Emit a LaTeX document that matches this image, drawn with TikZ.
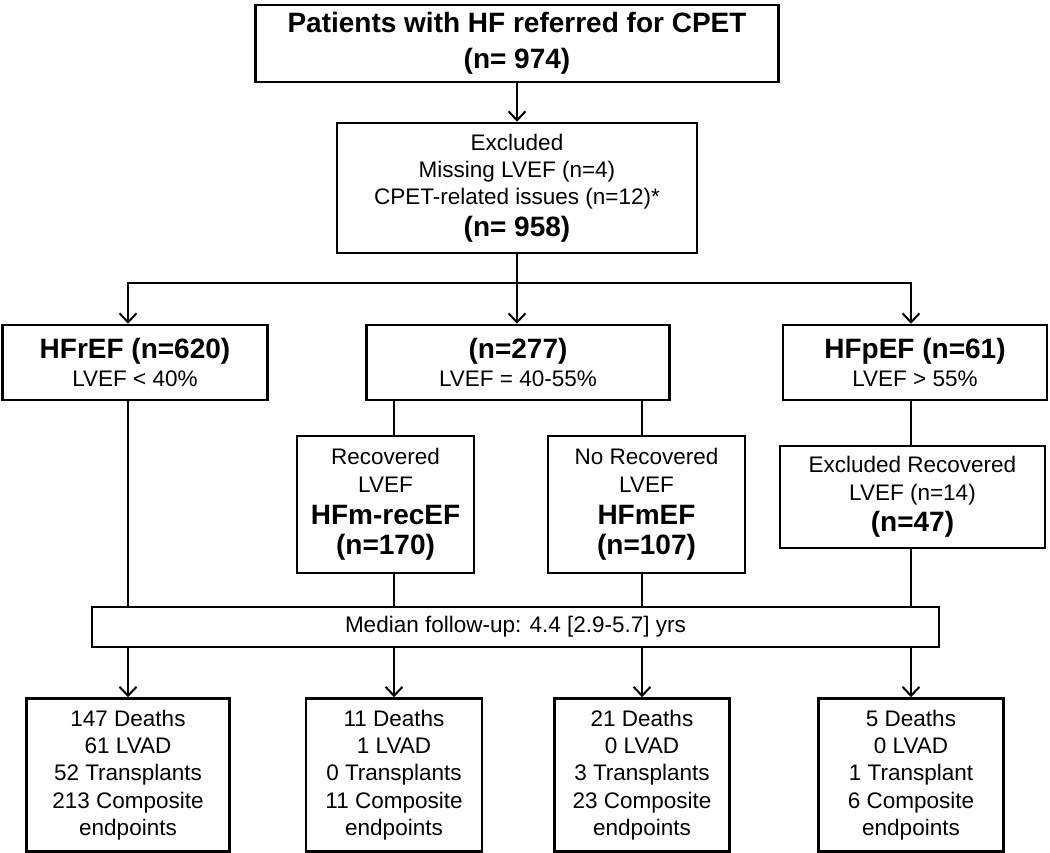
\documentclass[tikz,border=0pt]{standalone}
\usepackage{fontspec}
\setmainfont{Liberation Sans}
\usetikzlibrary{arrows.meta}
\tikzset{
    box/.style={
        draw,
        line width=2.5pt,
        align=center,
        inner sep=0pt,
        font=\fontsize{22.5}{27.3}\selectfont
    },
    lin/.style={line width=2.5pt},
    arr/.style={
        line width=2.5pt,
        -{Straight Barb[length=9pt,width=17pt,line width=2pt]}
    }
}
\newcommand{\bignum}[1]{{\fontsize{28}{31}\selectfont\bfseries #1}}
% name, x, y, width, height, text
\newcommand{\flowbox}[6] {
	\node[box, minimum width=#4pt, minimum height=#5pt] (#1) at (#2,#3) {#6};
}

\begin{document}
\begin{tikzpicture}[x=1pt,y=-1pt]
		\useasboundingbox (0,0) rectangle (1050,853);

		% Top of the chart
		\node[box, minimum width=523pt, minimum height=77pt,
			font=\fontsize{28}{36}\selectfont\bfseries] (top) at (517,43.5)
			{Patients with HF referred for CPET\\(n= 974)};
		\flowbox{excl}{517}{188}{360}{130}{Excluded\\Missing LVEF (n=4)\\CPET-related issues (n=12)*\\[4pt]\bignum{(n= 958)}}
		\coordinate (split) at (517,283);

		% Three groups
		\flowbox{hfr}{135}{362.5}{265}{75}{\bignum{HFrEF (n=620)}\\LVEF < 40\%}
		\flowbox{mid}{518}{362.5}{303}{75}{\bignum{(n=277)}\\LVEF = 40-55\%}
		\flowbox{hfp}{915}{362.5}{264}{75}{\bignum{HFpEF (n=61)}\\LVEF > 55\%}

		\flowbox{rec}{385.5}{504.5}{177}{137}{Recovered\\LVEF\\[5pt]\bignum{HFm-recEF}\\[3pt]\bignum{(n=170)}}
		\flowbox{norec}{646.5}{504.5}{197}{137}{No Recovered\\LVEF\\[5pt]\bignum{HFmEF}\\[3pt]\bignum{(n=107)}}
		\flowbox{exrec}{912.5}{497}{265}{102}{Excluded Recovered\\LVEF (n=14)\\[4pt]\bignum{(n=47)}}

		\flowbox{med}{515.5}{627}{847}{40}{Median follow-up: 4.4 [2.9-5.7] yrs}

		% Outcomes
		\flowbox{oa}{128}{775}{203}{153}{147 Deaths\\61 LVAD\\52 Transplants\\213 Composite\\endpoints}
		\flowbox{ob}{394}{775}{176}{153}{11 Deaths\\1 LVAD\\0 Transplants\\11 Composite\\endpoints}
		\flowbox{oc}{642}{775}{175}{153}{21 Deaths\\0 LVAD\\3 Transplants\\23 Composite\\endpoints}
		\flowbox{od}{911}{775}{185}{153}{5 Deaths\\0 LVAD\\1 Transplant\\6 Composite\\endpoints}

		% Connectors
		\draw[arr] (top) -- (excl);
		\draw[lin] (excl.south) -- (split);
		\draw[arr] (split) -| (hfr.north -| oa.north);
		\draw[arr] (split) -| (hfp.north -| od.north);
		\draw[arr] (split) -- (split |- mid.north);

		\draw[lin] (hfr.south -| oa.north) -- (med.north -| oa.north);
		\draw[lin] (mid.south -| ob.north) -- (rec.north -| ob.north);
		\draw[lin] (mid.south -| oc.north) -- (norec.north -| oc.north);
		\draw[lin] (rec.south -| ob.north) -- (med.north -| ob.north);
		\draw[lin] (norec.south -| oc.north) -- (med.north -| oc.north);
		\draw[lin] (hfp.south -| od.north) -- (exrec.north -| od.north);
		\draw[lin] (exrec.south -| od.north) -- (med.north -| od.north);

		\foreach \o in {oa,ob,oc,od}
			\draw[arr] (med.south -| \o.north) -- (\o.north);

\end{tikzpicture}
\end{document}
